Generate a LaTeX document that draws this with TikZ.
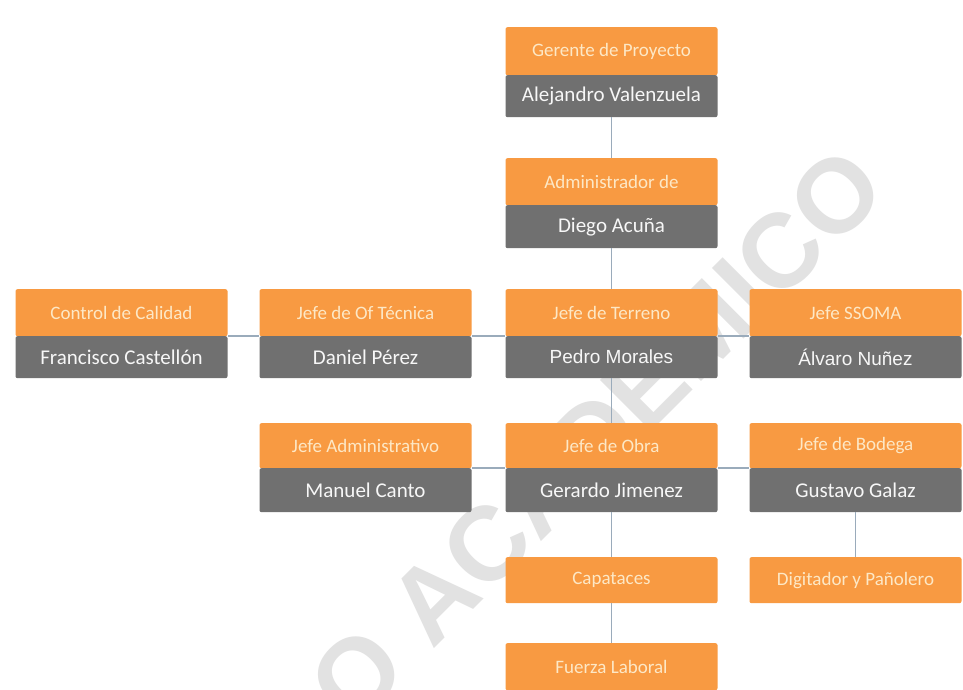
\documentclass[tikz,border=0pt]{standalone}
\usepackage{fontspec}
\setmainfont{Carlito}
\newfontfamily\arialf{Liberation Sans}
\newfontfamily\wmfont{Liberation Sans}
\definecolor{orng}{HTML}{F89A42}
\definecolor{gry}{HTML}{707070}
\definecolor{otxt}{HTML}{FDE8C6}
\definecolor{gtxt}{HTML}{F7F7F7}
\definecolor{lnc}{HTML}{9AABBB}
\definecolor{wmc}{HTML}{E2E2E2}
\begin{document}
\begin{tikzpicture}[x=1pt,y=-1pt,
  otop/.style={fill=orng, minimum width=212pt, inner sep=0pt, text=otxt,
    font=\fontsize{19}{21}\selectfont, anchor=north, rounded corners=2pt},
  gbot/.style={fill=gry, minimum width=212pt, inner sep=0pt, text=gtxt,
    font=\fontsize{21}{23}\selectfont, anchor=north, rounded corners=2pt},
  conn/.style={draw=lnc, line width=1.3pt}]
\fill[white] (0,0) rectangle (963,690);
\useasboundingbox (0,0) rectangle (963,690);

% Watermark (behind the chart)
\begin{scope}
\clip (0,0) rectangle (963,690);
\node[text=wmc, inner sep=0pt, anchor=base, rotate=45,
  font=\wmfont\bfseries\fontsize{105}{105}\selectfont] (wm) at (622,461) {O ACADÉMICO};
\end{scope}

% Row 1
\node[otop, minimum height=48pt] (gerT) at (611.5,27) {Gerente de Proyecto};
\node[gbot, minimum height=42pt] (gerB) at (611.5,75) {Alejandro Valenzuela};
% Row 2
\node[otop, minimum height=47pt] (admT) at (611.5,158) {Administrador de};
\node[gbot, minimum height=43pt] (admB) at (611.5,205) {Diego Acuña};
% Row 3
\node[otop, minimum height=47pt] (ctlT) at (121.5,289) {Control de Calidad};
\node[gbot, minimum height=42pt] (ctlB) at (121.5,336) {Francisco Castellón};
\node[otop, minimum height=47pt] (ofT) at (365.5,289) {Jefe de Of Técnica};
\node[gbot, minimum height=42pt] (ofB) at (365.5,336) {Daniel Pérez};
\node[otop, minimum height=47pt] (terT) at (611.5,289) {Jefe de Terreno};
\node[gbot, minimum height=42pt, font=\arialf\fontsize{19}{21}\selectfont] (terB) at (611.5,336) {Pedro Morales};
\node[otop, minimum height=47pt] (ssT) at (855.5,289) {Jefe SSOMA};
\node[gbot, minimum height=42pt, font=\arialf\fontsize{19}{21}\selectfont] (ssB) at (855.5,336) {Álvaro Nuñez};
% Row 4
\node[otop, minimum height=45pt] (jadT) at (365.5,423) {Jefe Administrativo};
\node[gbot, minimum height=44pt] (jadB) at (365.5,468) {Manuel Canto};
\node[otop, minimum height=45pt] (obrT) at (611.5,423) {Jefe de Obra};
\node[gbot, minimum height=44pt] (obrB) at (611.5,468) {Gerardo Jimenez};
\node[otop, minimum height=45pt] (bodT) at (855.5,423) {Jefe de Bodega};
\node[gbot, minimum height=44pt] (bodB) at (855.5,468) {Gustavo Galaz};
% Rows 5-6
\node[otop, minimum height=46pt] (capT) at (611.5,557) {Capataces};
\node[otop, minimum height=46pt] (digT) at (855.5,557) {Digitador y Pañolero};
\node[otop, minimum height=47pt] (fueT) at (611.5,643) {Fuerza Laboral};

% Connectors
\draw[conn] (gerB.south) -- (admT.north);
\draw[conn] (admB.south) -- (terT.north);
\draw[conn] (terB.south) -- (obrT.north);
\draw[conn] (obrB.south) -- (capT.north);
\draw[conn] (capT.south) -- (fueT.north);
\draw[conn] (bodB.south) -- (digT.north);
\draw[conn] (ctlB.north east) -- (ofB.north west);
\draw[conn] (ofB.north east) -- (terB.north west);
\draw[conn] (terB.north east) -- (ssB.north west);
\draw[conn] (jadB.north east) -- (obrB.north west);
\draw[conn] (obrB.north east) -- (bodB.north west);
\end{tikzpicture}
\end{document}
